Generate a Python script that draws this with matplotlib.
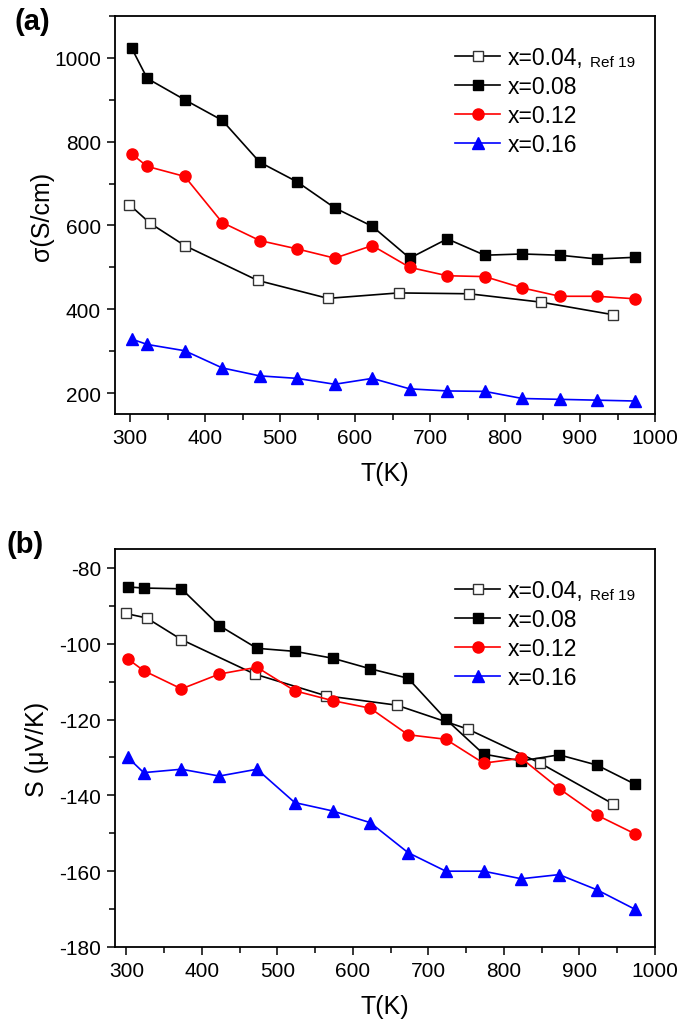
import matplotlib
matplotlib.use("Agg")
import matplotlib.pyplot as plt
from matplotlib.ticker import MultipleLocator

plt.rcParams['font.family'] = ['Liberation Sans', 'DejaVu Sans']
plt.rcParams['axes.unicode_minus'] = False

# temperatures
T_ref = [299, 327, 373, 470, 564, 658, 752, 848, 944]
T = [302, 323, 373, 423, 473, 523, 573, 623, 673, 723, 773, 823, 873, 923, 973]

# conductivity (S/cm)
sig_004 = [650, 605, 552, 469, 426, 439, 437, 417, 387]
sig_008 = [1024, 951, 900, 851, 751, 704, 642, 598, 522, 568, 529, 532, 529, 520, 524]
sig_012 = [771, 741, 717, 607, 564, 544, 522, 552, 500, 480, 478, 451, 431, 431, 425]
sig_016 = [329, 316, 301, 260, 241, 235, 221, 235, 210, 205, 204, 187, 185, 183, 181]

# Seebeck (uV/K)
S_004 = [-92, -93.2, -98.9, -108, -113.7, -116.2, -122.5, -131.5, -142.2]
S_008 = [-85, -85.3, -85.5, -95.2, -101.2, -102, -103.8, -106.6, -109.1, -119.9, -129.1, -130.9, -129.3, -132, -137]
S_012 = [-104, -107.1, -111.9, -108, -106.2, -112.4, -115, -117, -124, -125.2, -131.5, -130.2, -138.2, -145.2, -150.1]
S_016 = [-130, -134, -133.1, -134.9, -133.1, -141.9, -144.1, -147.2, -155.1, -160, -160, -162, -160.9, -164.9, -170]

labels = ["x=0.04,", "x=0.08", "x=0.12", "x=0.16"]

fig = plt.figure(figsize=(6.85, 10.2), dpi=100)
ax1 = fig.add_axes([115/685, 1-415/1020, 540/685, 398/1020])
ax2 = fig.add_axes([115/685, 1-948/1020, 540/685, 398/1020])


def draw(ax, a, b, c, d):
    ax.plot(T_ref, a, '-s', color='black', mfc='white', mec='#333333', ms=7, lw=1.2, label=labels[0])
    ax.plot(T, b, '-s', color='black', ms=7, lw=1.2, label=labels[1])
    ax.plot(T, c, '-o', color='#ff0000', ms=8, lw=1.2, label=labels[2])
    ax.plot(T, d, '-^', color='#0000ff', ms=9, lw=1.2, label=labels[3])
    ax.xaxis.set_major_locator(MultipleLocator(100))
    ax.xaxis.set_minor_locator(MultipleLocator(50))
    ax.tick_params(which='major', direction='out', length=6, width=1.1, labelsize=15, pad=4)
    ax.tick_params(which='minor', direction='out', length=4, width=1.1)
    for s in ax.spines.values():
        s.set_linewidth(1.3)
    ax.set_xlabel("T(K)", fontsize=18, labelpad=10)
    leg = ax.legend(loc='upper left', bbox_to_anchor=(0.63, 0.925), frameon=False,
                    fontsize=16.5, handlelength=1.95, handletextpad=0.35,
                    labelspacing=0.27, borderpad=0, borderaxespad=0)
    return leg


leg1 = draw(ax1, sig_004, sig_008, sig_012, sig_016)
ax1.set_xlim(280, 1000)
ax1.set_ylim(150, 1100)
ax1.yaxis.set_major_locator(MultipleLocator(200))
ax1.yaxis.set_minor_locator(MultipleLocator(100))
ax1.set_ylabel("σ(S/cm)", fontsize=18, labelpad=0)

leg2 = draw(ax2, S_004, S_008, S_012, S_016)
ax2.set_xlim(285, 1000)
ax2.set_ylim(-180, -75)
ax2.yaxis.set_major_locator(MultipleLocator(20))
ax2.yaxis.set_minor_locator(MultipleLocator(10))
ax2.set_ylabel("S (μV/K)", fontsize=18, labelpad=7)

fig.text(15/685, 1-30/1020, "(a)", fontsize=21, fontweight='bold')
fig.text(7/685, 1-553/1020, "(b)", fontsize=21, fontweight='bold')

# small "Ref 19" after the first legend entry
fig.canvas.draw()
for leg in (leg1, leg2):
    bb = leg.get_texts()[0].get_window_extent()
    fig.text(bb.x1 + 6, bb.y0 + 3, "Ref 19", fontsize=11, transform=None)

fig.savefig("out.png", dpi=100)
